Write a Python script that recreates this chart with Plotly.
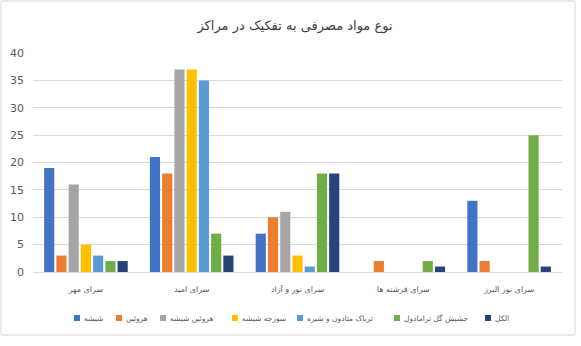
import plotly.graph_objects as go

categories = ["سرای مهر", "سرای امید", "سرای نور و آزاد", "سرای فرشته ها", "سرای نور البرز"]
series_names = ["شیشه", "هروئین", "هروئین شیشه", "سورجه شیشه", "تریاک متادون و شیره", "حشیش گل ترامادول", "الکل"]
shisheh = [19, 21, 7, 0, 13]
heroin = [3, 18, 10, 2, 2]
heroin_shisheh = [16, 37, 11, 0, 0]
soorjeh_shisheh = [5, 37, 3, 0, 0]
tariak = [3, 35, 1, 0, 0]
hashish = [2, 7, 18, 2, 25]
alcohol = [2, 3, 18, 1, 1]
title_text = "نوع مواد مصرفی به تفکیک در مراکز"
y_ticks = [0, 5, 10, 15, 20, 25, 30, 35, 40]

series_values = [shisheh, heroin, heroin_shisheh, soorjeh_shisheh, tariak, hashish, alcohol]
colors = ["#4472C4", "#ED7D31", "#A5A5A5", "#FFC000", "#5B9BD5", "#70AD47", "#264478"]

fig = go.Figure()
for name, vals, c in zip(series_names, series_values, colors):
    fig.add_trace(go.Bar(name=name, x=categories, y=vals, showlegend=False,
                         marker=dict(color=c, line=dict(width=0))))

W, H = 581, 346
ml, mr, mt, mb = 33, 19, 53, 74
pw, ph = W - ml - mr, H - mt - mb

def px(x):
    return (x - ml) / pw

def py(y):
    return (H - mb - y) / ph

# legend built from the series names and colours (marker square then label)
legend_left = [74, 116, 160, 232, 297, 394, 485]
annotations = []
shapes = [dict(type="rect", xref="paper", yref="paper",
               x0=px(1), x1=px(575), y0=py(335), y1=py(1),
               line=dict(color="#D9D9D9", width=1), fillcolor="rgba(0,0,0,0)", layer="below")]
for name, c, lx in zip(series_names, colors, legend_left):
    shapes.append(dict(type="rect", xref="paper", yref="paper",
                       x0=px(lx), x1=px(lx + 6), y0=py(321), y1=py(315),
                       line=dict(width=0), fillcolor=c))
    annotations.append(dict(text=name, xref="paper", yref="paper", x=px(lx + 8), y=py(318),
                            xanchor="left", yanchor="middle", showarrow=False,
                            font=dict(size=7.5, color="#595959")))

fig.update_layout(
    width=W, height=H,
    margin=dict(l=ml, r=mr, t=mt, b=mb, autoexpand=False),
    paper_bgcolor="white", plot_bgcolor="white",
    barmode="group", bargap=0.19, bargroupgap=0.17,
    font=dict(family="DejaVu Sans", color="#595959", size=10),
    title=dict(text=title_text, x=px(295), xref="paper", xanchor="center",
               y=1 - 25 / H, yanchor="middle",
               font=dict(size=13, color="#404040", family="DejaVu Sans")),
    showlegend=False,
    xaxis=dict(showgrid=False, showline=True, linecolor="#D9D9D9", linewidth=1,
               ticks="", tickfont=dict(size=8, color="#595959"), ticklabelstandoff=9),
    yaxis=dict(range=[0, 40], tickvals=y_ticks, showgrid=True, gridcolor="#D9D9D9",
               gridwidth=1, zeroline=False, showline=False, ticks="",
               tickfont=dict(size=11, color="#595959"), ticklabelstandoff=8),
    shapes=shapes,
    annotations=annotations,
)

fig.write_html("out.html")
